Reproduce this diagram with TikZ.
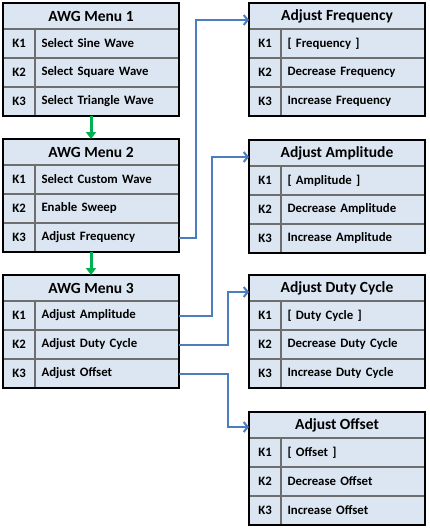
\documentclass[tikz,border=0pt]{standalone}
\usepackage{fontspec}
\setmainfont{Carlito}
\usetikzlibrary{arrows.meta, calc, positioning}

\definecolor{cellfill}{RGB}{220,230,242}
\definecolor{gridgray}{RGB}{110,110,110}
\definecolor{linkblue}{RGB}{74,126,193}
\definecolor{stepgreen}{RGB}{0,176,80}

% one menu table: name, top left corner, title, three key labels
\newcommand{\awgmenu}[6]{%
  \node[titlecell, anchor=north west] (#1) at (#2) {#3};
  \node[kcell, anchor=north west] (#1k1) at (#1.south west) {K1};
  \node[labelcell, anchor=west] (#1t1) at (#1k1.east) {#4};
  \node[kcell, anchor=north west] (#1k2) at (#1k1.south west) {K2};
  \node[labelcell, anchor=west] (#1t2) at (#1k2.east) {#5};
  \node[kcell, anchor=north west] (#1k3) at (#1k2.south west) {K3};
  \node[labelcell, anchor=west] (#1t3) at (#1k3.east) {#6};
  \draw[frame] (#1.north west) rectangle (#1t3.south east);
}

\begin{document}
\begin{tikzpicture}[x=1pt, y=-1pt,
    cell/.style={fill=cellfill, draw=gridgray, line width=1.5pt, inner sep=0pt, outer sep=0pt, text=black},
    titlecell/.style={cell, minimum width=176pt, minimum height=26pt, font=\bfseries\fontsize{15.5}{17}\selectfont},
    kcell/.style={cell, minimum width=32pt, minimum height=29pt, font=\bfseries\fontsize{12.8}{14}\selectfont},
    labelcell/.style={cell, text width=131pt, inner xsep=6.5pt, minimum height=29pt, align=left, font=\bfseries\fontsize{12.8}{14}\selectfont},
    frame/.style={draw=black, line width=2.2pt},
    nextmenu/.style={stepgreen, line width=3pt, -{Triangle[length=7pt, width=10pt]}},
    link/.style={linkblue, line width=2pt, -{Straight Barb[length=4pt, width=10pt]}}]
  \useasboundingbox (0,0) rectangle (429,530);

  % Menus on the left
  \awgmenu{m1}{3,3}{AWG Menu 1}{Select Sine Wave}{Select Square Wave}{Select Triangle Wave}
  \awgmenu{m2}{3,139}{AWG Menu 2}{Select Custom Wave}{Enable Sweep}{Adjust Frequency}
  \awgmenu{m3}{3,275}{AWG Menu 3}{Adjust Amplitude}{Adjust Duty Cycle}{Adjust Offset}

  % Sub menus on the right
  \awgmenu{freq}{249,3}{Adjust Frequency}{[ Frequency ]}{Decrease Frequency}{Increase Frequency}
  \awgmenu{ampl}{249,140}{Adjust Amplitude}{[ Amplitude ]}{Decrease Amplitude}{Increase Amplitude}
  \awgmenu{duty}{249,275}{Adjust Duty Cycle}{[ Duty Cycle ]}{Decrease Duty Cycle}{Increase Duty Cycle}
  \awgmenu{offs}{249,412}{Adjust Offset}{[ Offset ]}{Decrease Offset}{Increase Offset}

  % Menu to menu
  \draw[nextmenu] (m1t3.south -| m1.south) -- (m2.north);
  \draw[nextmenu] (m2t3.south -| m2.south) -- (m3.north);

  % Keys to sub menus
  \draw[link] (m2t3.east) -- ++(17,0) |- ([yshift=-4pt]freq.west);
  \draw[link] (m3t1.east) -- ++(33,0) |- ([yshift=-4pt]ampl.west);
  \draw[link] (m3t2.east) -- ++(49,0) |- ([yshift=-4pt]duty.west);
  \draw[link] (m3t3.east) -- ++(49,0) |- ([yshift=-2pt]offs.west);
\end{tikzpicture}
\end{document}
